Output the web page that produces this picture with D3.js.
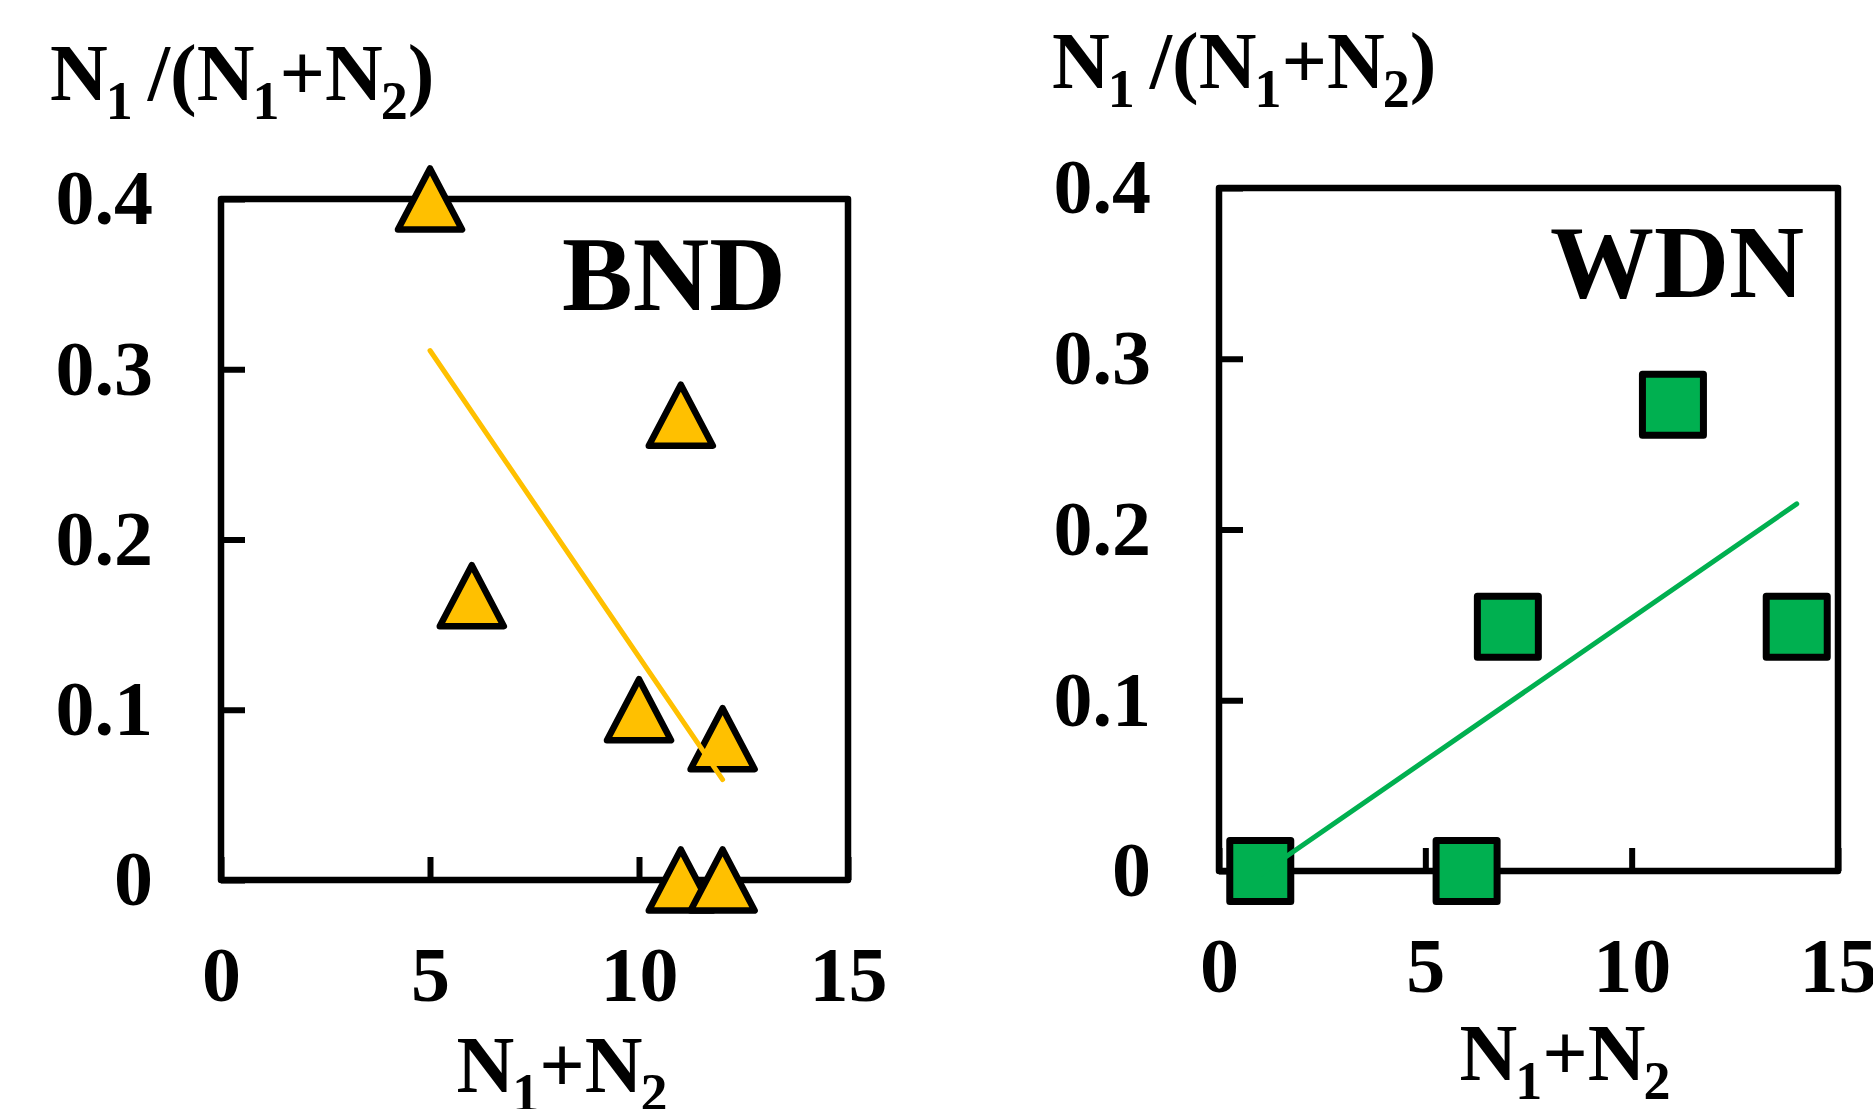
<!DOCTYPE html>
<html>
<head>
<meta charset="utf-8">
<script src="https://cdn.jsdelivr.net/npm/d3@7"></script>
<style>
  html, body { margin: 0; padding: 0; background: #fff; }
  svg { display: block; }
  text { font-family: "Liberation Serif", "Times New Roman", serif; fill: #000; }
</style>
</head>
<body>
<svg id="chart" width="1873" height="1109"></svg>
<script>
// values
var xTicks = [0, 5, 10, 15];
var yTicks = [0, 0.1, 0.2, 0.3, 0.4];
var yTickLabels = ["0", "0.1", "0.2", "0.3", "0.4"];

var bndX = [5, 6, 10, 11, 11, 12, 12];
var bndY = [0.4, 0.167, 0.1, 0.273, 0, 0.083, 0];
var bndTrendX = [5, 12];
var bndTrendY = [0.311, 0.059];

var wdnX = [1, 6, 7, 11, 14];
var wdnY = [0, 0, 0.143, 0.273, 0.143];
var wdnTrendX = [1, 14];
var wdnTrendY = [-0.002, 0.215];

var svg = d3.select("#chart");

function trianglePath(s) {
  var h = s / 2;
  return "M0," + (-h) + "L" + (h * 1.05) + "," + h + "L" + (-h * 1.05) + "," + h + "Z";
}
function squarePath(s) {
  var h = s / 2;
  return "M" + (-h) + "," + (-h) + "H" + h + "V" + h + "H" + (-h) + "Z";
}

var subSize = 54, subShift = 19;

// y title with subscripts
function ratioTitle(g, x, y) {
  var t = g.append("text").attr("x", x).attr("y", y)
    .attr("font-size", 80).attr("font-weight", "bold");
  t.append("tspan").text("N");
  t.append("tspan").attr("dy", subShift).attr("dx", -2).attr("font-size", subSize).text("1");
  t.append("tspan").attr("dy", -subShift).attr("dx", 15).text("/(N");
  t.append("tspan").attr("dy", subShift).attr("dx", -2).attr("font-size", subSize).text("1");
  t.append("tspan").attr("dy", -subShift).text("+N");
  t.append("tspan").attr("dy", subShift).attr("dx", -2).attr("font-size", subSize).text("2");
  t.append("tspan").attr("dy", -subShift).text(")");
}
function sumTitle(g, cx, y) {
  var t = g.append("text").attr("x", cx).attr("y", y).attr("text-anchor", "middle")
    .attr("font-size", 80).attr("font-weight", "bold");
  t.append("tspan").text("N");
  t.append("tspan").attr("dy", subShift).attr("dx", -2).attr("font-size", subSize).text("1");
  t.append("tspan").attr("dy", -subShift).text("+N");
  t.append("tspan").attr("dy", subShift).attr("dx", -2).attr("font-size", subSize).text("2");
}

function drawPanel(cfg) {
  var x = d3.scaleLinear().domain([0, 15]).range([cfg.x0, cfg.x1]);
  var y = d3.scaleLinear().domain([0, 0.4]).range([cfg.y1, cfg.y0]);
  var g = svg.append("g");

  // frame
  g.append("rect")
    .attr("x", cfg.x0).attr("y", cfg.y0)
    .attr("width", cfg.x1 - cfg.x0).attr("height", cfg.y1 - cfg.y0)
    .attr("fill", "none").attr("stroke", "#000")
    .attr("stroke-width", 6.5).attr("stroke-linejoin", "round");

  var yAxis = d3.axisLeft(y).tickValues(yTicks)
    .tickFormat(function(d, i) { return yTickLabels[i]; })
    .tickSizeInner(-24).tickSizeOuter(0).tickPadding(68);
  var ya = g.append("g").attr("transform", "translate(" + cfg.x0 + ",0)").call(yAxis);

  var xAxis = d3.axisBottom(x).tickValues(xTicks).tickFormat(d3.format("d"))
    .tickSizeInner(-23).tickSizeOuter(0).tickPadding(66);
  var xa = g.append("g").attr("transform", "translate(0," + cfg.y1 + ")").call(xAxis);

  [ya, xa].forEach(function(a) {
    a.select(".domain").remove();
    a.selectAll(".tick line").attr("stroke", "#000").attr("stroke-width", 6);
    a.selectAll(".tick text")
      .attr("font-family", "Liberation Serif, serif")
      .attr("font-weight", "bold").attr("font-size", 78).attr("fill", "#000");
  });

  // markers
  g.selectAll("path.mark").data(cfg.xs).enter().append("path")
    .attr("class", "mark")
    .attr("d", cfg.shape)
    .attr("transform", function(d, i) { return "translate(" + x(d) + "," + y(cfg.ys[i]) + ")"; })
    .attr("fill", cfg.color).attr("stroke", "#000")
    .attr("stroke-width", cfg.markStroke).attr("stroke-linejoin", "round");

  // trend line
  var line = d3.line().x(function(d) { return x(d[0]); }).y(function(d) { return y(d[1]); });
  g.append("path")
    .datum(d3.zip(cfg.tx, cfg.ty))
    .attr("d", line)
    .attr("fill", "none").attr("stroke", cfg.color)
    .attr("stroke-width", 5).attr("stroke-linecap", "round");

  // panel label
  g.append("text").attr("x", cfg.labelX).attr("y", cfg.labelY)
    .attr("font-size", cfg.labelSize).attr("font-weight", "bold").text(cfg.label);

  ratioTitle(g, cfg.ytX, cfg.ytY);
  sumTitle(g, cfg.xtX, cfg.xtY);
}

drawPanel({
  x0: 221, x1: 848, y0: 199, y1: 880,
  xs: bndX, ys: bndY, tx: bndTrendX, ty: bndTrendY,
  shape: trianglePath(61), markStroke: 6.5, color: "#FFC000",
  label: "BND", labelX: 562, labelY: 310, labelSize: 106,
  ytX: 50, ytY: 100, xtX: 562, xtY: 1092
});

drawPanel({
  x0: 1219, x1: 1838, y0: 188, y1: 871,
  xs: wdnX, ys: wdnY, tx: wdnTrendX, ty: wdnTrendY,
  shape: squarePath(61), markStroke: 7, color: "#00B050",
  label: "WDN", labelX: 1550, labelY: 297, labelSize: 104,
  ytX: 1052, ytY: 88, xtX: 1565, xtY: 1080
});
</script>
</body>
</html>
